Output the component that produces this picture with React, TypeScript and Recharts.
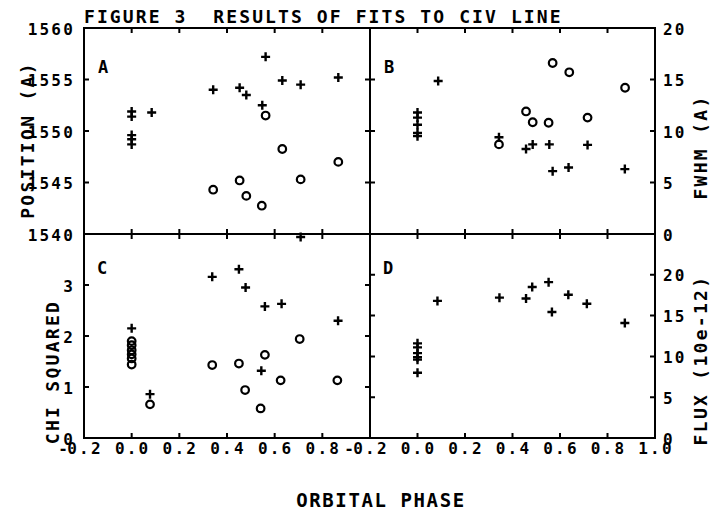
import { ScatterChart, Scatter, XAxis, YAxis, ReferenceArea } from 'recharts';

const FONT = '"DejaVu Sans Mono", monospace';
const INK = '#000';
const W = 711;
const H = 512;
const TICK = 5;

// phase axis shared by all four panels
const phaseDomain: [number, number] = [-0.2, 1.0];
const phaseTicks = [-0.2, 0, 0.2, 0.4, 0.6, 0.8, 1.0];
const phaseLabelsC = [-0.2, 0, 0.2, 0.4, 0.6, 0.8];
const phaseLabelsD = [-0.2, 0, 0.2, 0.4, 0.6, 0.8, 1.0];

const positionTicks = [1540, 1545, 1550, 1555, 1560];
const fwhmTicks = [0, 5, 10, 15, 20];
const chiTicks = [0, 1, 2, 3, 4];
const chiLabels = [0, 1, 2, 3];
const fluxTicks = [0, 5, 10, 15, 20, 25];
const fluxLabels = [0, 5, 10, 15, 20];

// [orbital phase, value]
const positionCross = [
  [0.0, 1551.9], [0.0, 1551.4], [0.0, 1549.6], [0.0, 1549.2], [0.0, 1548.7],
  [0.084, 1551.8], [0.342, 1554.0], [0.453, 1554.2], [0.481, 1553.5],
  [0.548, 1552.5], [0.562, 1557.2], [0.632, 1554.9], [0.709, 1554.5], [0.867, 1555.2],
];
const positionCircle = [
  [0.342, 1544.3], [0.453, 1545.2], [0.481, 1543.7], [0.546, 1542.75],
  [0.562, 1551.5], [0.632, 1548.25], [0.709, 1545.3], [0.867, 1547.0],
];

const fwhmCross = [
  [0.0, 11.8], [0.0, 11.3], [0.0, 10.6], [0.0, 9.8], [0.0, 9.5],
  [0.087, 14.85], [0.343, 9.4], [0.457, 8.25], [0.485, 8.7], [0.555, 8.7],
  [0.569, 6.1], [0.636, 6.45], [0.716, 8.65], [0.873, 6.3],
];
const fwhmCircle = [
  [0.343, 8.7], [0.457, 11.9], [0.485, 10.85], [0.552, 10.8],
  [0.569, 16.6], [0.639, 15.7], [0.716, 11.3], [0.874, 14.2],
];

const chiCross = [
  [0.0, 2.15], [0.077, 0.86], [0.338, 3.16], [0.45, 3.31], [0.478, 2.95],
  [0.544, 1.32], [0.559, 2.58], [0.629, 2.63], [0.709, 3.94], [0.866, 2.3],
];
const chiCircle = [
  [0.0, 1.9], [0.0, 1.82], [0.0, 1.72], [0.0, 1.64], [0.0, 1.56], [0.0, 1.44],
  [0.077, 0.66], [0.338, 1.43], [0.45, 1.46], [0.476, 0.94], [0.541, 0.58],
  [0.559, 1.63], [0.625, 1.13], [0.705, 1.94], [0.863, 1.13],
];

const fluxCross = [
  [0.0, 11.6], [0.0, 11.1], [0.0, 10.4], [0.0, 9.9], [0.0, 9.6], [0.0, 8.0],
  [0.084, 16.8], [0.345, 17.2], [0.457, 17.1], [0.483, 18.5], [0.552, 19.1],
  [0.566, 15.45], [0.635, 17.55], [0.713, 16.45], [0.873, 14.1],
];

type Box = { x0: number; x1: number; y0: number; y1: number };

const boxA: Box = { x0: 84, x1: 370, y0: 28, y1: 234 };
const boxB: Box = { x0: 370, x1: 655, y0: 28, y1: 234 };
const boxC: Box = { x0: 84, x1: 370, y0: 234, y1: 438 };
const boxD: Box = { x0: 370, x1: 655, y0: 234, y1: 438 };

const textStyle = { fontFamily: FONT, fontWeight: 700, fill: INK } as const;

const toPoints = (pairs: number[][]) => pairs.map(([x, y]) => ({ x, y }));

const Plus = ({ cx, cy }: any) => (
  <path d={`M${cx - 4.5},${cy}H${cx + 4.5}M${cx},${cy - 4.5}V${cy + 4.5}`} stroke={INK} strokeWidth={2.4} />
);

const Ring = ({ cx, cy }: any) => (
  <circle cx={cx} cy={cy} r={3.8} fill="none" stroke={INK} strokeWidth={2.2} />
);

const XTick = ({ x, payload, box, labels }: any) => {
  const v = payload.value;
  const inner = v > phaseDomain[0] + 1e-6 && v < phaseDomain[1] - 1e-6;
  const show = labels.includes(v);
  const abs = Math.abs(v).toFixed(1);
  return (
    <g>
      {inner && (
        <path d={`M${x},${box.y0}v${TICK}M${x},${box.y1}v${-TICK}`} stroke={INK} strokeWidth={2} />
      )}
      {show && (
        <text {...textStyle} x={x + 1} y={box.y1 + 10} fontSize={16} letterSpacing={2.2} textAnchor="middle" dominantBaseline="central">
          {abs}
        </text>
      )}
      {show && v < 0 && (
        <text {...textStyle} x={x - 21} y={box.y1 + 10} fontSize={16} textAnchor="middle" dominantBaseline="central">
          -
        </text>
      )}
    </g>
  );
};

const YTick = ({ y, payload, box, domain, labels, side }: any) => {
  const v = payload.value;
  const inner = v > domain[0] && v < domain[1];
  const show = labels.includes(v);
  return (
    <g>
      {inner && (
        <path d={`M${box.x0},${y}h${TICK}M${box.x1},${y}h${-TICK}`} stroke={INK} strokeWidth={2} />
      )}
      {show && (
        <text
          {...textStyle}
          x={side === 'left' ? box.x0 - 9 : box.x1 + 8}
          y={y + 1}
          fontSize={16}
          letterSpacing={2.2}
          textAnchor={side === 'left' ? 'end' : 'start'}
          dominantBaseline="central"
        >
          {v}
        </text>
      )}
    </g>
  );
};

interface PanelProps {
  box: Box;
  yDomain: [number, number];
  yTicks: number[];
  yLabels: number[];
  side: 'left' | 'right';
  xLabels: number[];
  crosses: number[][];
  circles?: number[][];
}

// axes are 1px thick (a 0px axis is not drawn), so margins give that pixel back
const Panel = ({ box, yDomain, yTicks, yLabels, side, xLabels, crosses, circles }: PanelProps) => (
  <div style={{ position: 'absolute', left: 0, top: 0 }}>
    <ScatterChart
      width={W}
      height={H}
      margin={{ top: box.y0, left: box.x0 - 1, right: W - box.x1, bottom: H - box.y1 - 1 }}
    >
      <XAxis
        type="number"
        dataKey="x"
        domain={phaseDomain}
        ticks={phaseTicks}
        interval={0}
        height={1}
        axisLine={false}
        tickLine={false}
        tickSize={0}
        tick={<XTick box={box} labels={xLabels} />}
      />
      <YAxis
        type="number"
        dataKey="y"
        domain={yDomain}
        ticks={yTicks}
        interval={0}
        width={1}
        axisLine={false}
        tickLine={false}
        tickSize={0}
        tick={<YTick box={box} domain={yDomain} labels={yLabels} side={side} />}
      />
      <ReferenceArea
        x1={phaseDomain[0]}
        x2={phaseDomain[1]}
        y1={yDomain[0]}
        y2={yDomain[1]}
        fill="none"
        stroke={INK}
        strokeWidth={2}
        ifOverflow="visible"
      />
      <Scatter data={toPoints(crosses)} shape={(p: any) => <Plus {...p} />} isAnimationActive={false} />
      {circles && (
        <Scatter data={toPoints(circles)} shape={(p: any) => <Ring {...p} />} isAnimationActive={false} />
      )}
    </ScatterChart>
  </div>
);

const App = () => (
  <div style={{ position: 'absolute', left: 0, top: 0, width: W, height: H, background: '#fff' }}>
    <Panel box={boxA} yDomain={[1540, 1560]} yTicks={positionTicks} yLabels={positionTicks} side="left"
      xLabels={[]} crosses={positionCross} circles={positionCircle} />
    <Panel box={boxB} yDomain={[0, 20]} yTicks={fwhmTicks} yLabels={fwhmTicks} side="right"
      xLabels={[]} crosses={fwhmCross} circles={fwhmCircle} />
    <Panel box={boxC} yDomain={[0, 4]} yTicks={chiTicks} yLabels={chiLabels} side="left"
      xLabels={phaseLabelsC} crosses={chiCross} circles={chiCircle} />
    <Panel box={boxD} yDomain={[0, 25]} yTicks={fluxTicks} yLabels={fluxLabels} side="right"
      xLabels={phaseLabelsD} crosses={fluxCross} />
    <svg width={W} height={H} style={{ position: 'absolute', left: 0, top: 0, pointerEvents: 'none' }}>
      <g {...textStyle}>
        <text x={84} y={16} fontSize={18} letterSpacing={2.1} dominantBaseline="central" style={{ whiteSpace: 'pre' }}>
          FIGURE 3  RESULTS OF FITS TO CIV LINE
        </text>
        <text x={103} y={67} fontSize={17} textAnchor="middle" dominantBaseline="central">A</text>
        <text x={389} y={67} fontSize={17} textAnchor="middle" dominantBaseline="central">B</text>
        <text x={102} y={268} fontSize={17} textAnchor="middle" dominantBaseline="central">C</text>
        <text x={388} y={268} fontSize={17} textAnchor="middle" dominantBaseline="central">D</text>
        <text transform="translate(27,140) rotate(-90)" fontSize={18} letterSpacing={2.3} textAnchor="middle" dominantBaseline="central">
          POSITION (A)
        </text>
        <text transform="translate(52,372) rotate(-90)" fontSize={18} letterSpacing={2.3} textAnchor="middle" dominantBaseline="central">
          CHI SQUARED
        </text>
        <text transform="translate(700,147) rotate(-90)" fontSize={18} letterSpacing={2.3} textAnchor="middle" dominantBaseline="central">
          FWHM (A)
        </text>
        <text transform="translate(700,360) rotate(-90)" fontSize={18} letterSpacing={2.3} textAnchor="middle" dominantBaseline="central">
          FLUX (10e-12)
        </text>
        <text x={381} y={500} fontSize={19} letterSpacing={1.6} textAnchor="middle" dominantBaseline="central">
          ORBITAL PHASE
        </text>
      </g>
    </svg>
  </div>
);

export default App;
